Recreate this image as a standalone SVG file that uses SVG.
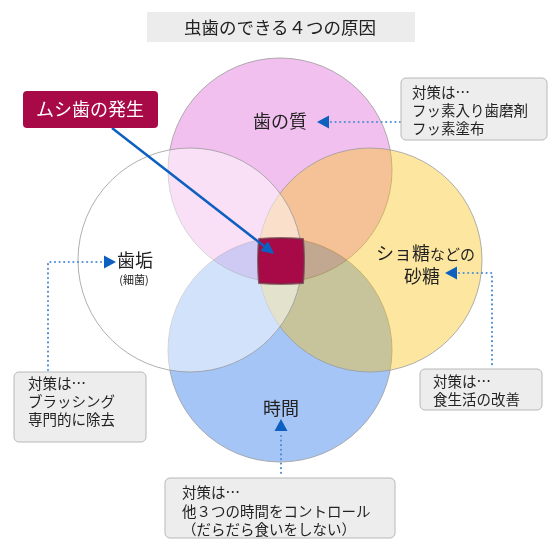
<svg xmlns="http://www.w3.org/2000/svg" width="560" height="550" viewBox="0 0 560 550">
<defs>
<style>
text{font-family:"Noto Sans CJK JP","Liberation Sans",sans-serif;fill:#222}
.c{stroke:#9a9a9a;stroke-width:0.8}
.box{fill:#ededed;stroke:#b8b8b8;stroke-width:1}
.dot{fill:none;stroke:#4f8fd6;stroke-width:2.2;stroke-dasharray:0 4.6;stroke-linecap:round}
.tri{fill:#0d5fc0}
.lbl{font-size:18px;text-anchor:middle}
.note{font-size:14.5px}
</style>
<marker id="ah" viewBox="0 0 10 10" refX="9" refY="5" markerWidth="5" markerHeight="5" orient="auto" markerUnits="strokeWidth">
<path d="M0,0 L10,5 L0,10 z" fill="#0d5fc0"/>
</marker>
</defs>
<rect width="560" height="550" fill="#fff"/>
<g id="title">
<rect x="147" y="12" width="268" height="30" fill="#ececec"/>
<text x="280" y="34" font-size="17.5" text-anchor="middle">虫歯のできる４つの原因</text>
</g>
<g id="circles">
<circle id="pink" class="c" cx="280" cy="170" r="112" fill="#f2c0ee"/>
<circle id="blue" class="c" cx="280" cy="350" r="112" fill="#a6c5f7" style="mix-blend-mode:multiply"/>
<circle id="yellow" class="c" cx="370" cy="260" r="112" fill="#fac311" fill-opacity="0.4"/>
<circle id="white" class="c" cx="190" cy="260" r="112" fill="#ffffff" fill-opacity="0.5"/>
</g>
<g id="center">
<path d="M259,239 Q281,237 303,239 Q305,261 303,283 Q281,285 259,283 Q257,261 259,239 z" fill="#a80a48" stroke="#6b3444" stroke-opacity="0.7" stroke-width="2"/>
</g>
<g id="connectors">
<line x1="112" y1="128" x2="273" y2="253" stroke="#0d5fc0" stroke-width="2.5" marker-end="url(#ah)"/>
<polyline class="dot" points="400,122 331,122"/>
<polyline class="dot" points="48,370 48,262 104,262"/>
<polyline class="dot" points="459,273 492,273 492,368"/>
<polyline class="dot" points="281,436 281,476"/>
<polygon class="tri" points="317,122 329,115.5 329,128.5"/>
<polygon class="tri" points="116,262 104,255.5 104,268.5"/>
<polygon class="tri" points="445,273 457,266.5 457,279.5"/>
<polygon class="tri" points="281,419 274.5,431 287.5,431"/>
</g>
<g id="occurrence">
<rect x="23" y="91" width="135" height="37" rx="4" fill="#a80a48"/>
<text x="90" y="116" font-size="18" text-anchor="middle" style="fill:#fff">ムシ歯の発生</text>
</g>
<g id="quality">
<text class="lbl" x="280" y="128">歯の質</text>
</g>
<g id="plaque">
<text class="lbl" x="135" y="267">歯垢</text>
<text x="134" y="284" font-size="11" text-anchor="middle">(細菌)</text>
</g>
<g id="sugar">
<text x="376" y="260" font-size="18">ショ糖<tspan font-size="15">などの</tspan></text>
<text class="lbl" x="422" y="283">砂糖</text>
</g>
<g id="time">
<text class="lbl" x="281" y="415">時間</text>
</g>
<g id="note-quality">
<rect class="box" x="401" y="78" width="146" height="62" rx="5"/>
<text class="note" x="412" y="98">対策は…</text>
<text class="note" x="412" y="116">フッ素入り歯磨剤</text>
<text class="note" x="412" y="134">フッ素塗布</text>
</g>
<g id="note-plaque">
<rect class="box" x="14" y="372" width="132" height="70" rx="5"/>
<text class="note" x="28" y="389">対策は…</text>
<text class="note" x="28" y="407">ブラッシング</text>
<text class="note" x="28" y="425">専門的に除去</text>
</g>
<g id="note-sugar">
<rect class="box" x="420" y="369" width="122" height="41" rx="5"/>
<text class="note" x="433" y="387">対策は…</text>
<text class="note" x="433" y="405">食生活の改善</text>
</g>
<g id="note-time">
<rect class="box" x="165" y="478" width="230" height="60" rx="5"/>
<text class="note" x="182" y="498">対策は…</text>
<text class="note" x="182" y="517">他３つの時間をコントロール</text>
<text class="note" x="182" y="535">（だらだら食いをしない）</text>
</g>
</svg>
